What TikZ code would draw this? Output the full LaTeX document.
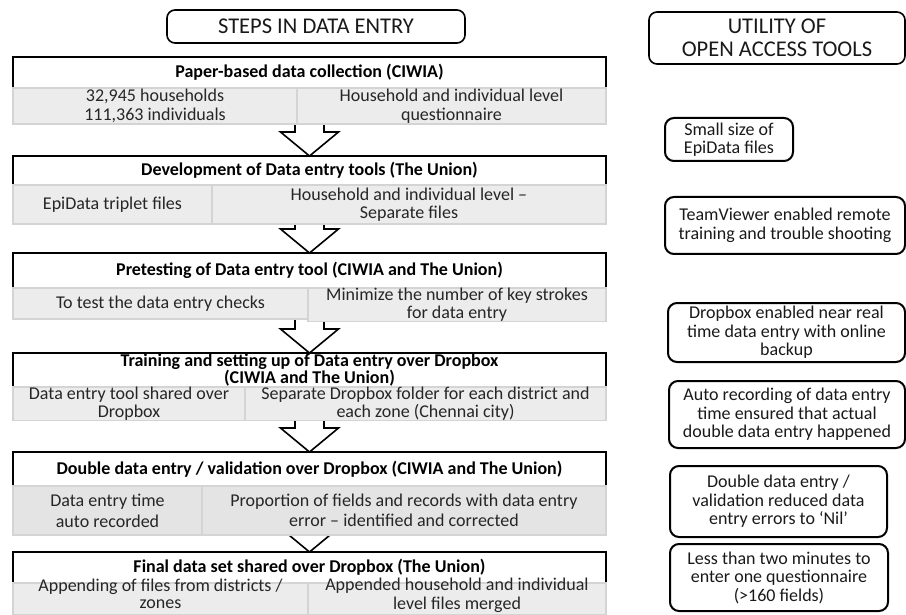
\documentclass[tikz,border=0pt]{standalone}
\usepackage{fontspec}
\setmainfont{Carlito}
\usetikzlibrary{calc,backgrounds}
\definecolor{cellfill}{RGB}{236,236,236}
\definecolor{cellfilld}{RGB}{228,228,228}
\definecolor{cellline}{RGB}{212,212,212}
\newcommand\bodyfs{\fontsize{18}{18.5}\selectfont}
\newcommand\tightfs{\fontsize{18}{16}\selectfont}
\newcommand\titlefs{\fontsize{22.5}{22.5}\selectfont}
\begin{document}
\begin{tikzpicture}[x=1pt,y=-1pt,
  hdr/.style={minimum width=593pt, inner sep=0pt, outer sep=0pt, font=\bodyfs\bfseries, align=center},
  hdrline/.style={line width=2.2pt, line join=miter},
  cell/.style={anchor=north west, draw=cellline, fill=cellfill, line width=1.2pt, inner sep=0pt, outer sep=0pt, align=center, font=\bodyfs, text=black!85},
  celltxt/.style={inner sep=0pt, align=center, font=\fontsize{18}{17}\selectfont, text=black!85, yshift=2.5pt},
  util/.style={draw=black, line width=2pt, rounded corners=9pt, inner sep=0pt, align=center, font=\bodyfs, text=black!90},
  ttl/.style={draw=black, line width=1.6pt, rounded corners=8pt, inner sep=0pt, align=center, font=\titlefs, text=black!90},
  blockarr/.style={draw=black, fill=white, line width=1.6pt, line join=miter}
]
\useasboundingbox (0,0) rectangle (906,615);

% titles
\node[ttl, minimum width=298pt, minimum height=33pt] (t1) at (316,26.5) {STEPS IN DATA ENTRY};
\node[ttl, minimum width=256pt, minimum height=52pt] (t2) at (777,38) {UTILITY OF\\OPEN ACCESS TOOLS};

% step 1
\node[hdr, minimum height=31pt] (h1) at (309.5,72.5) {Paper-based data collection (CIWIA)};
\draw[hdrline] (h1.south west) -- (h1.north west) -- (h1.north east) -- (h1.south east);
\node[cell, minimum width=284pt, minimum height=36pt] (c1a) at (13,88) {32,945 households\\111,363 individuals};
\node[cell, minimum width=309pt, minimum height=36pt] (c1b) at (297,88) {Household and individual level\\questionnaire};

% step 2
\node[hdr, minimum height=29pt] (h2) at (309.5,170.5) {Development of Data entry tools (The Union)};
\draw[hdrline] (h2.south west) -- (h2.north west) -- (h2.north east) -- (h2.south east);
\node[cell, minimum width=199pt, minimum height=39pt] (c2a) at (13,185) {EpiData triplet files};
\node[cell, minimum width=394pt, minimum height=39pt] (c2b) at (212,185) {Household and individual level –\\Separate files};

% step 3
\node[hdr, minimum height=35pt] (h3) at (309.5,270.5) {Pretesting of Data entry tool (CIWIA and The Union)};
\draw[hdrline] (h3.south west) -- (h3.north west) -- (h3.north east) -- (h3.south east);
\node[cell, minimum width=295pt, minimum height=31pt] (c3a) at (13,288) {To test the data entry checks};
\node[cell, minimum width=298pt, minimum height=31pt] (c3b) at (308,288) {Minimize the number of key strokes\\for data entry};

% step 4
\node[hdr, minimum height=34pt, font=\tightfs\bfseries] (h4) at (309.5,370) {Training and setting up of Data entry over Dropbox\\(CIWIA and The Union)};
\draw[hdrline] (h4.south west) -- (h4.north west) -- (h4.north east) -- (h4.south east);
\node[cell, minimum width=232pt, minimum height=31pt] (c4a) at (13,387) {Data entry tool shared over\\Dropbox};
\node[cell, minimum width=361pt, minimum height=31pt] (c4b) at (245,387) {Separate Dropbox folder for each district and\\each zone (Chennai city)};

% step 5
\node[hdr, minimum height=34pt] (h5) at (309.5,469) {Double data entry / validation over Dropbox (CIWIA and The Union)};
\draw[hdrline] (h5.south west) -- (h5.north west) -- (h5.north east) -- (h5.south east);
\node[cell, fill=cellfilld, minimum width=189pt, minimum height=49pt, font=\fontsize{18}{21}\selectfont] (c5a) at (13,486) {Data entry time\\auto recorded};
\node[cell, fill=cellfilld, minimum width=404pt, minimum height=49pt, font=\fontsize{18}{19.5}\selectfont] (c5b) at (202,486) {Proportion of fields and records with data entry\\error – identified and corrected};

% step 6
\node[hdr, minimum height=31pt] (h6) at (309.5,567.5) {Final data set shared over Dropbox (The Union)};
\draw[hdrline] (h6.south west) -- (h6.north west) -- (h6.north east) -- (h6.south east);
\node[cell, minimum width=295pt, minimum height=32pt,
  label={[celltxt]center:\strut Appending of files from districts /\\\strut zones}] (c6a) at (13,583) {};
\node[cell, minimum width=298pt, minimum height=32pt,
  label={[celltxt]center:\strut Appended household and individual\\\strut level files merged}] (c6b) at (308,583) {};

% block arrows between steps (behind the boxes)
\begin{pgfonlayer}{background}
\foreach \a/\b in {c1b/h2, c2b/h3, c3b/h4, c4b/h5, c5b/h6}{
  \draw[blockarr] ($(\b.north |- \a.south)+(-14.5,-6)$) -- ($(\b.north)+(-14.5,-24)$)
    -- ($(\b.north)+(-29,-24)$) -- (\b.north) -- ($(\b.north)+(29,-24)$)
    -- ($(\b.north)+(14.5,-24)$) -- ($(\b.north |- \a.south)+(14.5,-6)$);
}
\end{pgfonlayer}

% utility boxes
\node[util, minimum width=128pt, minimum height=43pt] (u1) at (729,139.5) {Small size of\\EpiData files};
\node[util, minimum width=240pt, minimum height=57pt] (u2) at (785,225.5) {TeamViewer enabled remote\\training and trouble shooting};
\node[util, minimum width=237pt, minimum height=59pt] (u3) at (786.5,332.5) {Dropbox enabled near real\\time data entry with online\\backup};
\node[util, minimum width=236pt, minimum height=67pt] (u4) at (787,414.5) {Auto recording of data entry\\time ensured that actual\\double data entry happened};
\node[util, minimum width=217pt, minimum height=71pt] (u5) at (778.5,501.5) {Double data entry /\\validation reduced data\\entry errors to ‘Nil’};
\node[util, minimum width=218pt, minimum height=67pt] (u6) at (779,577.5) {Less than two minutes to\\enter one questionnaire\\(>160 fields)};
\end{tikzpicture}
\end{document}
